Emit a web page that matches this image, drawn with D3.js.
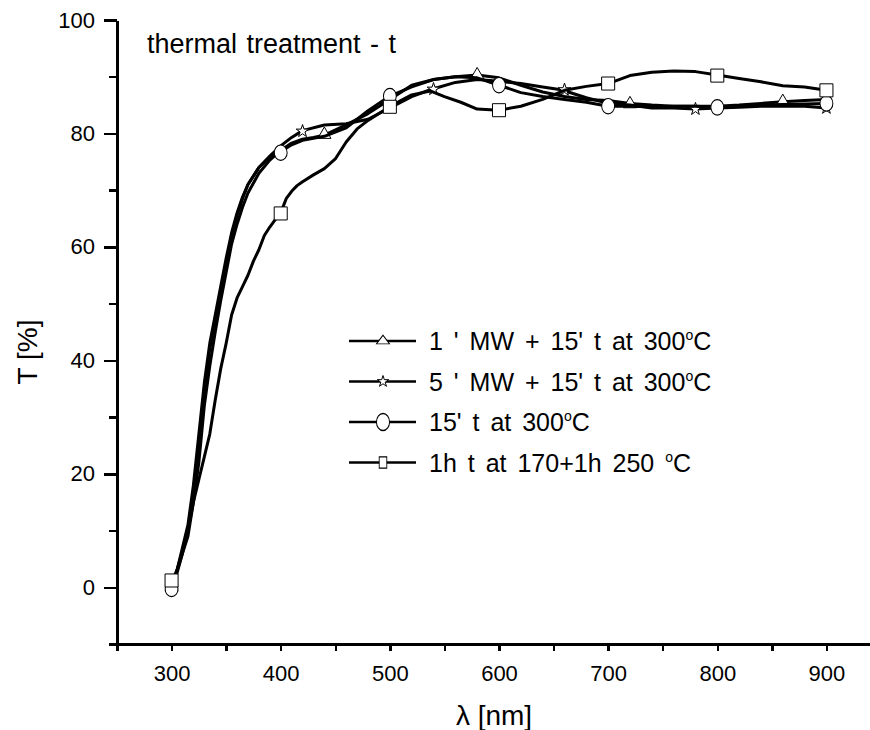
<!DOCTYPE html>
<html lang="en">
<head>
  <meta charset="UTF-8">
  <title>Thermal treatment - transmittance</title>
  <script src="https://d3js.org/d3.v7.min.js"></script>
  <style>
    body, html {
      margin: 0;
      padding: 0;
      background-color: #fff;
      overflow: hidden;
    }
    svg text {
      font-family: "Liberation Sans", Arial, sans-serif;
      fill: #000;
    }
    .axis path, .axis line {
      stroke: #000;
      stroke-width: 2.5;
      shape-rendering: crispEdges;
    }
    .series-line {
      fill: none;
      stroke: #000;
      stroke-width: 3;
      stroke-linejoin: round;
    }
    .marker {
      fill: #fff;
      stroke: #000;
      stroke-width: 1;
    }
  </style>
</head>
<body>
  <svg id="chart"></svg>

  <script>
    // values
    const seriesNames = [
      "1 ' MW + 15' t at 300",
      "5 ' MW + 15' t at 300",
      "15' t at 300",
      "1h t at 170+1h 250 "
    ];
    const markerTypes = ["triangle", "star", "circle", "square"];

    // 1' MW + 15' t (triangles)
    const seriesA = [
      [300, 0], [305, 2.5], [310, 6], [315, 9], [320, 15], [325, 22], [330, 32], [335, 39],
      [340, 45], [345, 50.5], [350, 55.5], [355, 60.5], [360, 64], [365, 67], [370, 69.5],
      [380, 73], [390, 75.3], [400, 77], [410, 78.3], [420, 79], [430, 79.3], [440, 79.7],
      [460, 81.5], [480, 83.5], [500, 86], [520, 88.5], [540, 89.5], [560, 90], [580, 90.3],
      [600, 89.8], [620, 88.5], [640, 87.3], [660, 86.5], [680, 86], [700, 85.8], [720, 85.3],
      [740, 85], [760, 84.8], [780, 84.8], [800, 84.8], [820, 85], [840, 85.3], [860, 85.6],
      [880, 85.8], [900, 86]
    ];
    // 5' MW + 15' t (stars)
    const seriesB = [
      [300, 0], [305, 3], [310, 6.5], [315, 10], [320, 17], [325, 25], [330, 35], [335, 42],
      [340, 47], [345, 52], [350, 57], [355, 62], [360, 65.5], [365, 68.5], [370, 71],
      [380, 74], [390, 76], [400, 77.8], [410, 79.3], [420, 80.5], [440, 81.5], [460, 81.7],
      [480, 82.5], [500, 84.5], [520, 86.5], [537, 87.7], [560, 89], [580, 89.5], [600, 89.2],
      [620, 88.8], [640, 88.2], [657, 87.7], [680, 86.3], [700, 85.3], [720, 85], [740, 84.5],
      [760, 84.5], [780, 84.3], [800, 84.5], [820, 84.6], [840, 84.8], [860, 84.8], [880, 84.8],
      [900, 84.5]
    ];
    // 15' t at 300 (circles)
    const seriesC = [
      [300, 0], [305, 3], [310, 7], [315, 11], [320, 18], [325, 27], [330, 36], [335, 43],
      [340, 48], [345, 53], [350, 58], [355, 62.5], [360, 66], [365, 68.8], [370, 71],
      [380, 74], [390, 75.8], [400, 76.8], [410, 78], [420, 78.8], [440, 79.5], [460, 81],
      [480, 84], [500, 86.6], [520, 88.2], [540, 89.5], [560, 90], [580, 89.8], [600, 88.5],
      [620, 87.2], [640, 86.5], [660, 86], [680, 85.5], [700, 84.8], [720, 84.8], [740, 84.7],
      [760, 84.8], [780, 84.8], [800, 84.6], [820, 84.8], [840, 85], [860, 85.1], [880, 85.2],
      [900, 85.3]
    ];
    // 1h t at 170 + 1h 250 (squares)
    const seriesD = [
      [300, 1], [305, 3], [310, 6], [315, 10], [320, 15], [325, 19], [330, 23], [335, 27],
      [340, 33], [345, 38.5], [350, 43], [355, 48], [360, 51], [365, 53], [370, 55],
      [375, 57.5], [380, 59.5], [385, 62], [390, 63.5], [395, 64.8], [400, 66], [405, 68.5],
      [410, 69.8], [415, 70.8], [420, 71.5], [430, 72.7], [440, 73.8], [450, 75.5], [460, 78.5],
      [470, 80.8], [480, 82.3], [490, 83.5], [500, 84.7], [510, 85.8], [520, 86.8], [537, 87.5],
      [550, 86.5], [565, 85.5], [580, 84.3], [600, 84.1], [620, 84.8], [640, 86], [660, 87.6],
      [680, 88.3], [700, 88.8], [720, 90.2], [740, 90.8], [760, 91], [780, 90.9], [800, 90.3],
      [820, 89.7], [840, 89.1], [860, 88.4], [880, 88.2], [900, 87.6]
    ];

    const markersA = [[300, 0], [440, 79.8], [580, 90.3], [720, 85.2], [860, 85.6]];
    const markersB = [[300, 0.3], [420, 80.4], [540, 87.8], [660, 87.7], [780, 84.3], [900, 84.5]];
    const markersC = [[300, -0.3], [400, 76.6], [500, 86.6], [600, 88.5], [700, 84.8], [800, 84.6], [900, 85.3]];
    const markersD = [[300, 1.2], [400, 65.9], [500, 84.7], [600, 84.1], [700, 88.8], [800, 90.2], [900, 87.6]];

    const xMajorTicks = [300, 400, 500, 600, 700, 800, 900];
    const xMinorTicks = [250, 350, 450, 550, 650, 750, 850, 950];
    const yMajorTicks = [0, 20, 40, 60, 80, 100];
    const yMinorTicks = [-10, 10, 30, 50, 70, 90];

    const width = 870;
    const height = 730;

    const svg = d3.select("#chart")
      .attr("width", width)
      .attr("height", height);

    const x = d3.scaleLinear().domain([250, 950]).range([117, 881]);
    const y = d3.scaleLinear().domain([-10, 100]).range([644, 20]);

    // axes
    svg.append("g")
      .attr("class", "axis")
      .attr("transform", "translate(0," + y(-10) + ")")
      .call(d3.axisBottom(x).tickValues(xMinorTicks).tickSize(7).tickFormat(""));

    svg.append("g")
      .attr("class", "axis")
      .attr("transform", "translate(0," + y(-10) + ")")
      .call(d3.axisBottom(x).tickValues(xMajorTicks).tickSize(7).tickSizeOuter(0).tickPadding(14))
      .call(g => g.selectAll("text").style("font-size", "22px"));

    svg.append("g")
      .attr("class", "axis")
      .attr("transform", "translate(" + x(250) + ",0)")
      .call(d3.axisLeft(y).tickValues(yMinorTicks).tickSize(8).tickSizeOuter(0).tickFormat(""));

    svg.append("g")
      .attr("class", "axis")
      .attr("transform", "translate(" + x(250) + ",0)")
      .call(d3.axisLeft(y).tickValues(yMajorTicks).tickSize(13).tickSizeOuter(0).tickPadding(9))
      .call(g => g.selectAll("text").style("font-size", "22px"));

    // axis titles
    svg.append("text")
      .attr("x", 494)
      .attr("y", 725)
      .attr("text-anchor", "middle")
      .style("font-size", "28px")
      .text("λ [nm]");

    svg.append("text")
      .attr("transform", "translate(37,352) rotate(-90)")
      .attr("text-anchor", "middle")
      .style("font-size", "28px")
      .text("T [%]");

    svg.append("text")
      .attr("x", 147)
      .attr("y", 53)
      .style("font-size", "27px")
      .style("word-spacing", "2px")
      .text("thermal treatment - t");

    // series
    const line = d3.line()
      .x(d => x(d[0]))
      .y(d => y(d[1]));

    function markerPath(type, legend) {
      if (type === "triangle") return d3.symbol(d3.symbolTriangle, legend ? 60 : 75)();
      if (type === "star") return d3.symbol(d3.symbolStar, legend ? 40 : 50)();
      if (type === "circle") return d3.symbol(d3.symbolCircle, legend ? 135 : 130)();
      return d3.symbol(d3.symbolSquare, legend ? 80 : 170)();
    }
    function markerScale(type, legend) {
      if (type === "circle") return legend ? "scale(1,1.3)" : "scale(1,1.2)";
      if (type === "square" && legend) return "scale(0.85,1.25)";
      if (type === "triangle" && legend) return "scale(1.1,0.85)";
      return "";
    }

    const allSeries = [seriesA, seriesB, seriesC, seriesD];
    const allMarkers = [markersA, markersB, markersC, markersD];

    allSeries.forEach((s, i) => {
      const g = svg.append("g");
      g.append("path")
        .datum(s)
        .attr("class", "series-line")
        .attr("d", line);

      g.selectAll("path.marker")
        .data(allMarkers[i])
        .enter().append("path")
        .attr("class", "marker")
        .attr("d", markerPath(markerTypes[i], false))
        .attr("transform", d => "translate(" + x(d[0]) + "," + y(d[1]) + ")" + markerScale(markerTypes[i], false));
    });

    // legend
    const legendRows = [341, 381.5, 422, 462.5];
    const legend = svg.append("g");
    seriesNames.forEach((name, i) => {
      const row = legend.append("g").attr("transform", "translate(0," + legendRows[i] + ")");
      row.append("line")
        .attr("x1", 349).attr("x2", 416)
        .attr("y1", 0).attr("y2", 0)
        .style("stroke", "#000")
        .style("stroke-width", 2.5);
      row.append("path")
        .attr("class", "marker")
        .attr("d", markerPath(markerTypes[i], true))
        .attr("transform", "translate(383,0)" + markerScale(markerTypes[i], true));
      const t = row.append("text")
        .attr("x", 429)
        .attr("y", 9)
        .style("font-size", "25px")
        .style("word-spacing", "4px")
        .text(name);
      t.append("tspan")
        .attr("dy", -10)
        .style("font-size", "14px")
        .text("o");
      t.append("tspan")
        .attr("dy", 10)
        .text("C");
    });
  </script>
</body>
</html>
